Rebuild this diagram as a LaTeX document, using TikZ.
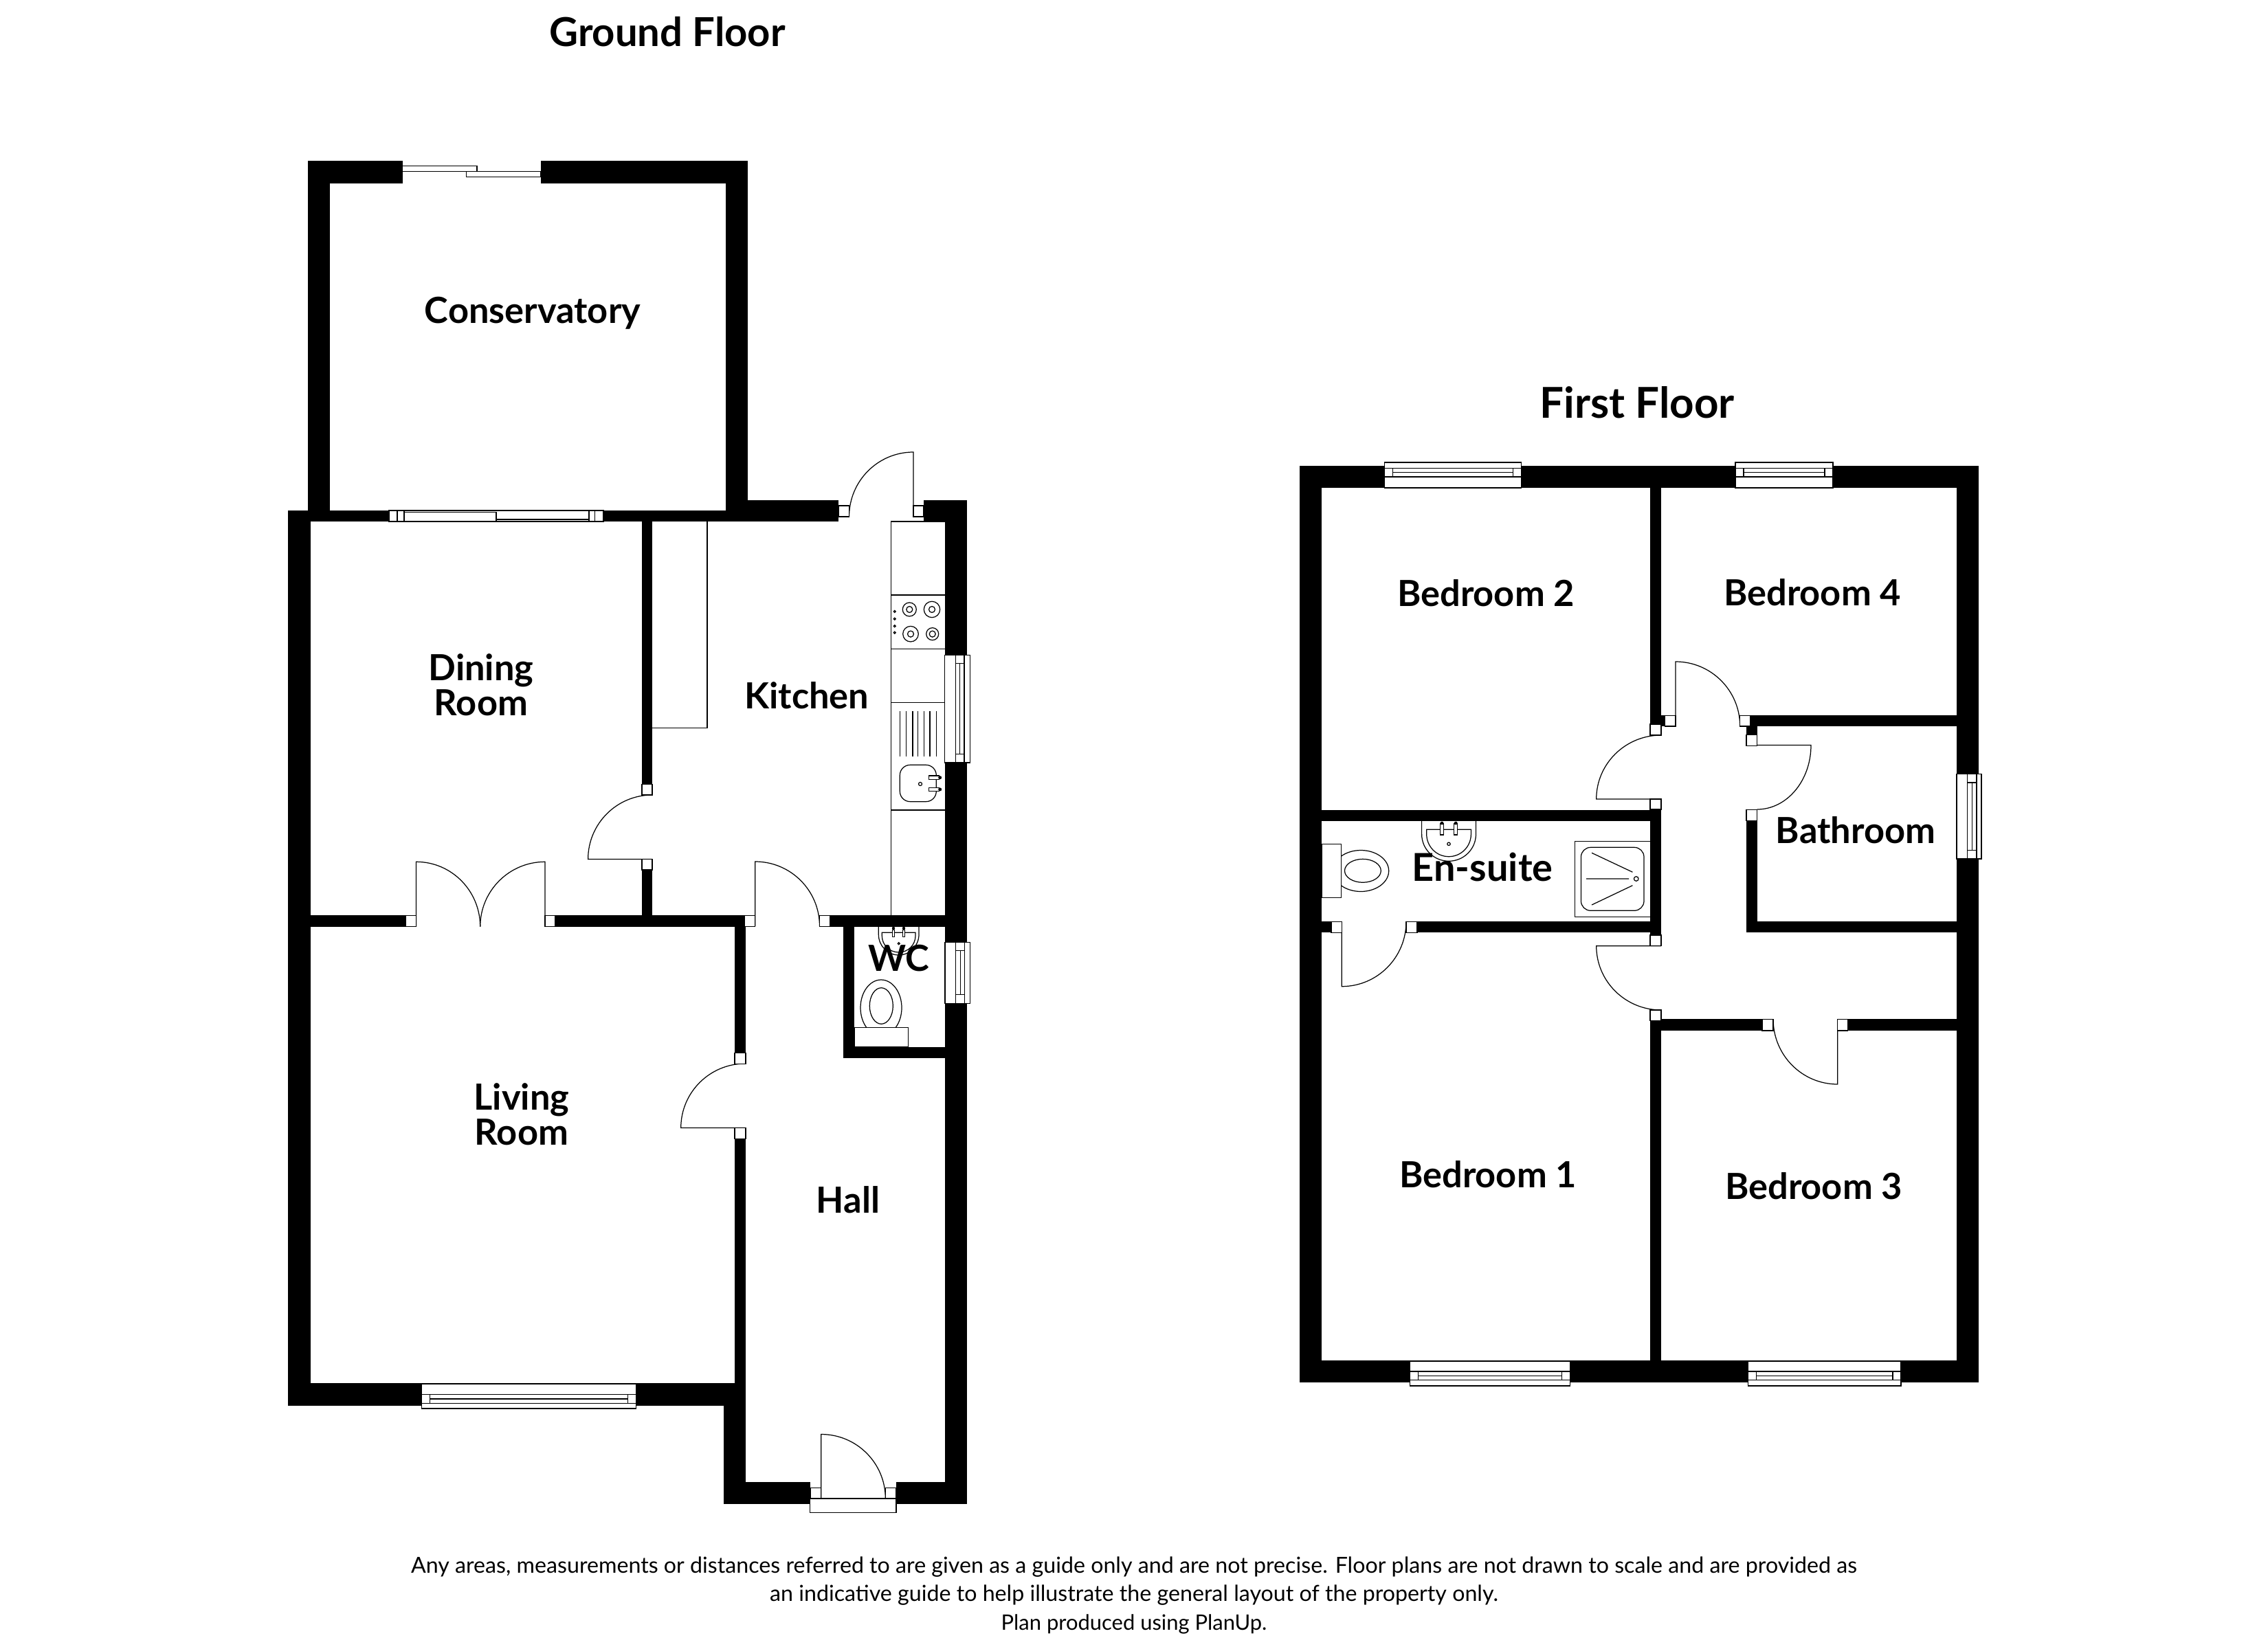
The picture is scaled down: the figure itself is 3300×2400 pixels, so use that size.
\documentclass[tikz,border=0pt]{standalone}
\usepackage{fontspec}
\setmainfont{Lato}
\usetikzlibrary{calc}
\tikzset{
    wall/.style = {fill=black},
    fitting/.style = {draw, line width=0.35pt},
    pane/.style = {draw, fill=white, line width=0.35pt},
    room/.style = {inner sep=0pt, align=center, font=\fontsize{14.9}{13}\selectfont\bfseries},
    floorname/.style = {inner sep=0pt, font=\fontsize{16.5}{20}\selectfont\bfseries},
    notice/.style = {inner sep=0pt, font=\fontsize{9.15}{10}\selectfont}
}
\def\doorleaf(#1,#2)(#3,#4)(#5,#6){%
    \draw [fitting] (#1,#2) -- (#3,#4) .. controls ($(#3,#4)+0.5523*(#5,#6)-0.5523*(#1,#2)$) and ($(#5,#6)+0.5523*(#3,#4)-0.5523*(#1,#2)$) .. (#5,#6);
}
\begin{document}
\begin{tikzpicture}[x=0.01cm, y=-0.01cm]
        \useasboundingbox (0,0) rectangle (3300,2400);

        % walls
        \foreach \xa/\ya/\xb/\yb in {448/234/585.5/266.5, 786.5/234/1088/266.5, 448/234/480/743, 1056/234/1088/759,
            419/743/451.6/2045.5, 419/743/1220/759, 1056/727.7/1220/759, 1344/727.7/1407/759, 1375/727.7/1407/2189.3,
            934/759/949/1141.7, 934/1266/949/1332.3, 451.6/1332.3/590/1348.7, 808/1332.3/1083.4/1348.7, 1207.8/1332.3/1375/1348.7,
            1069/1348.7/1085/1532.7, 1069/1657.6/1085/2045.5, 419/2013.4/1085/2045.5, 1053/2045/1085/2189.3,
            1053/2157.3/1179.3/2189.3, 1303.7/2157.3/1407/2189.3, 1227/1348.7/1243.3/1540, 1227/1523.7/1375/1540,
            1890.7/677.5/2878.7/710, 1890.7/677.5/1923/2012, 2847/677.5/2878.7/2012, 1890.7/1980/2878.7/2012,
            2401/710/2417/1054, 2401/1041/2422.5/1057, 2547/1041/2847/1057, 2541/1057/2556.5/1069.6, 2541/1193.7/2556.5/1357.3,
            2541/1341/2847/1357.3, 1923/1178.7/2417/1194.7, 2401/1194.7/2417/1361, 1923/1341.3/1937/1357.3, 2062/1341.3/2417/1357.3,
            2401/1485.3/2417/1980, 2417/1483.3/2564/1500, 2688.4/1483.3/2847/1500}{
            \fill [wall] (\xa,\ya) rectangle (\xb,\yb);
        }

        % doors
        \doorleaf(1329,752)(1329,658)(1235.5,752)
        \doorleaf(949,1250.5)(855.6,1250.5)(949,1157)
        \doorleaf(1098.8,1348)(1098.8,1254)(1192.5,1348)
        \doorleaf(605.6,1348.7)(605.6,1254.3)(698.7,1348.7)
        \doorleaf(793,1348.7)(793,1254.3)(698.7,1348.7)
        \doorleaf(1084.5,1641.5)(990.7,1641.5)(1084.5,1548)
        \doorleaf(1194.7,2181)(1194.7,2087.5)(1288.3,2181)
        \doorleaf(2438,1057)(2438,963)(2531.7,1057)
        \doorleaf(2417,1163)(2322.7,1163)(2417,1070)
        \doorleaf(2556.5,1084.6)(2635,1084.6)(2556.5,1178)
        \doorleaf(2417,1376.7)(2322.7,1376.7)(2417,1470)
        \doorleaf(1952.3,1341.3)(1952.3,1435.7)(2046,1341.3)
        \doorleaf(2673.7,1483.3)(2673.7,1578)(2580,1483.3)
        \foreach \xa/\ya/\xb/\yb in {1220/736/1235.5/752, 1329/736/1344/752, 934/1141.7/949/1157, 934/1250.7/949/1266,
            590/1332.3/605.6/1348.7, 793/1332.3/808/1348.7, 1083.4/1332.3/1098.8/1348.7, 1192.4/1332.3/1207.8/1348.7,
            1069/1532.7/1085/1548.3, 1069/1641.5/1085/1657.6, 1179.3/2165.3/1194.7/2181, 1288.3/2165.3/1303.7/2181,
            2422.5/1041.4/2438/1057, 2531.7/1041.4/2547/1057, 2401/1054/2417/1070, 2401/1163/2417/1178,
            2541/1069.6/2556.5/1085.4, 2541/1178.6/2556.5/1194.3, 1937/1341.3/1952.3/1357.3, 2046/1341.3/2062/1357.3,
            2401/1361/2417/1376.7, 2401/1470/2417/1485.3, 2564/1483.3/2580/1500, 2673.7/1483.3/2688.4/1500}{
            \draw [pane] (\xa,\ya) rectangle (\xb,\yb);
        }
        \draw [pane] (1178.7,2181) rectangle (1304,2201.7);

        % windows along a horizontal wall
        \foreach \xa/\xb/\ya/\yb/\yc/\yd in {2014.6/2213.6/673/681.4/694/710, 2525/2667/673/681.4/694/710,
            2051.5/2284.6/1981/1996/2008.7/2017, 2543.8/2766/1981/1996/2008.7/2017, 613.7/925.8/2014/2029.5/2042.4/2050}{
            \draw [pane] (\xa,\ya) rectangle (\xb,\yd);
            \draw [fitting] (\xa,\yb) -- (\xb,\yb) (\xa,\yc) -- (\xb,\yc);
            \draw [fitting] ($(\xa,\yb)+(12,0)$) -- ($(\xa,\yc)+(12,0)$) ($(\xb,\yb)-(12,0)$) -- ($(\xb,\yc)-(12,0)$);
            \draw [fitting] ($(\xa,\yb)!0.5!(\xa,\yc)+(12,0)$) -- ($(\xb,\yb)!0.5!(\xb,\yc)-(12,0)$);
        }
        % windows along a vertical wall
        \foreach \xa/\xb/\xc/\xd/\ya/\yb in {1374.7/1390.3/1403/1411.3/953.3/1110, 1375/1390.7/1403.7/1411.7/1371.3/1460.3, 2847/2862.6/2876/2883/1126.4/1250}{
            \draw [pane] (\xa,\ya) rectangle (\xd,\yb);
            \draw [fitting] (\xb,\ya) -- (\xb,\yb) (\xc,\ya) -- (\xc,\yb);
            \draw [fitting] ($(\xb,\ya)+(0,12.5)$) -- ($(\xc,\ya)+(0,12.5)$) ($(\xb,\yb)-(0,12.5)$) -- ($(\xc,\yb)-(0,12.5)$);
            \draw [fitting] ($(\xb,\ya)!0.5!(\xc,\ya)+(0,12.5)$) -- ($(\xb,\yb)!0.5!(\xc,\yb)-(0,12.5)$);
        }
        % sliding doors
        \draw [pane] (585.5,241.5) rectangle (694,249.5);
        \draw [pane] (678.6,249.5) rectangle (786.5,257.6);
        \draw [pane] (566,743) rectangle (878,759);
        \draw [fitting] (578,743) -- (578,759) (588,743) -- (588,759) (857,743) -- (857,759) (865.5,743) -- (865.5,759);
        \draw [fitting] (588,745.5) -- (722,745.5) -- (722,759);
        \draw [fitting] (722,756) -- (857,756);

        % kitchen units
        \draw [fitting] (1029,759) -- (1029,1059.5) -- (949,1059.5);
        \draw [fitting] (1296.5,1332.3) -- (1296.5,759) -- (1375,759);
        \foreach \y in {866,944.3,1022.3,1179}{
            \draw [fitting] (1296.5,\y) -- (1375,\y);
        }
        \foreach \cx/\cy/\rr in {1323.3/887/10, 1356/887/11.7, 1325/922.7/11.3, 1356.7/922.7/9}{
            \draw [fitting] (\cx,\cy) circle [radius=\rr];
            \draw [fitting] (\cx,\cy) circle [radius=4.5];
        }
        \foreach \y in {890,900.7,911.3,920.7}{
            \draw [fitting] (1301.7,\y) circle [radius=1.5];
        }
        \foreach \x in {1309.3,1318.7,1328,1335.3,1344.7,1353,1362.7}{
            \draw [fitting] (\x,1035) -- (\x,1101);
        }
        \draw [fitting, rounded corners=1.5mm] (1309.3,1113.3) rectangle (1362.3,1166.7);
        \draw [fitting] (1339,1141) circle [radius=2.5];
        \foreach \y in {1131.7,1148.9}{
            \draw [pane] (1351.3,\y-2.7) rectangle (1366.7,\y+2.7);
            \fill (1367.7,\y) circle [radius=2.5];
        }

        % wc
        \draw [fitting] (1278.3,1348.7) -- (1278.3,1360) .. controls (1278.3,1376.6) and (1291.5,1390) .. (1307.7,1390) .. controls (1323.9,1390) and (1337,1376.6) .. (1337,1360) -- (1337,1348.7);
        \draw [fitting] (1283.3,1357.3) -- (1283.3,1362) .. controls (1283.3,1375.3) and (1294.2,1386) .. (1307.7,1386) .. controls (1321.2,1386) and (1332,1375.3) .. (1332,1362) -- (1332,1357.3) -- cycle;
        \foreach \x in {1300,1315}{
            \draw [pane] (\x-1.7,1353.3) rectangle (\x+1.7,1363.3);
            \fill (\x,1351) circle [radius=2.2];
        }
        \draw [fitting] (1307.7,1373.3) circle [radius=1.5];
        \draw [fitting] (1282,1466.7) ellipse [x radius=30, y radius=40.7];
        \draw [fitting] (1282.3,1464) ellipse [x radius=17, y radius=26.3];
        \draw [pane] (1243.3,1495.7) rectangle (1321.3,1523.7);

        % en-suite
        \draw [fitting] (2068.6,1195) -- (2068.6,1214) .. controls (2068.6,1235.7) and (2086.2,1253.3) .. (2108,1253.3) .. controls (2129.8,1253.3) and (2147.5,1235.7) .. (2147.5,1214) -- (2147.5,1195);
        \draw [fitting] (2075.7,1207.3) -- (2075.7,1214) .. controls (2075.7,1232) and (2090,1246.7) .. (2108,1246.7) .. controls (2126,1246.7) and (2140.4,1232) .. (2140.4,1214) -- (2140.4,1207.3) -- cycle;
        \foreach \x in {2098,2118.2}{
            \draw [pane] (\x-2.5,1199) rectangle (\x+2.5,1215);
            \fill (\x,1198) circle [radius=2.4];
        }
        \draw [fitting] (2108,1228.3) circle [radius=2.2];
        \draw [fitting] (1980,1267.5) ellipse [x radius=40.7, y radius=30];
        \draw [fitting] (1982.9,1267.3) ellipse [x radius=26.4, y radius=17];
        \draw [pane] (1923,1228.3) rectangle (1951.8,1306.7);
        \draw [fitting] (2400.7,1224.3) -- (2291.4,1224.3) -- (2291.4,1334.3) -- (2400.7,1334.3);
        \draw [fitting, rounded corners=1.4mm] (2300.4,1233.3) rectangle (2392,1325.3);
        \draw [fitting] (2316,1241.3) -- (2375.4,1269.3) (2316,1317) -- (2375.4,1288.7) (2308,1279) -- (2370,1279);
        \draw [fitting] (2380.7,1279) circle [radius=3.3];

        % labels
        \node [floorname, name=ground] at (971,46) {Ground Floor};
        \node [floorname, name=first, font=\fontsize{17.6}{20}\selectfont\bfseries] at (2382,586) {First Floor};
        \node [room, name=conservatory] at (775,456) {Conservatory};
        \node [room, name=dining] at (700,997) {Dining\\Room};
        \node [room, name=kitchen] at (1174,1012) {Kitchen};
        \node [room, name=living] at (759,1622) {Living\\Room};
        \node [room, name=hall] at (1234,1746) {Hall};
        \node [room, name=cloakroom] at (1308,1395) {WC};
        \node [room, name=bed2] at (2162,863) {Bedroom 2};
        \node [room, name=bed4] at (2637,862) {Bedroom 4};
        \node [room, name=bath] at (2700,1208) {Bathroom};
        \node [room, name=ensuite, font=\fontsize{15.9}{14}\selectfont\bfseries] at (2157,1262) {En-suite};
        \node [room, name=bed1] at (2165,1709) {Bedroom 1};
        \node [room, name=bed3] at (2639,1726) {Bedroom 3};
        \node [notice, name=note1] at (1650,2281) {Any areas, measurements or distances referred to are given as a guide only and are not precise. Floor plans are not drawn to scale and are provided as};
        \node [notice, name=note2] at (1650,2322) {an indicative guide to help illustrate the general layout of the property only.};
        \node [notice, name=note3, font=\fontsize{8.8}{10}\selectfont] at (1650,2364) {Plan produced using PlanUp.};
\end{tikzpicture}
\end{document}
